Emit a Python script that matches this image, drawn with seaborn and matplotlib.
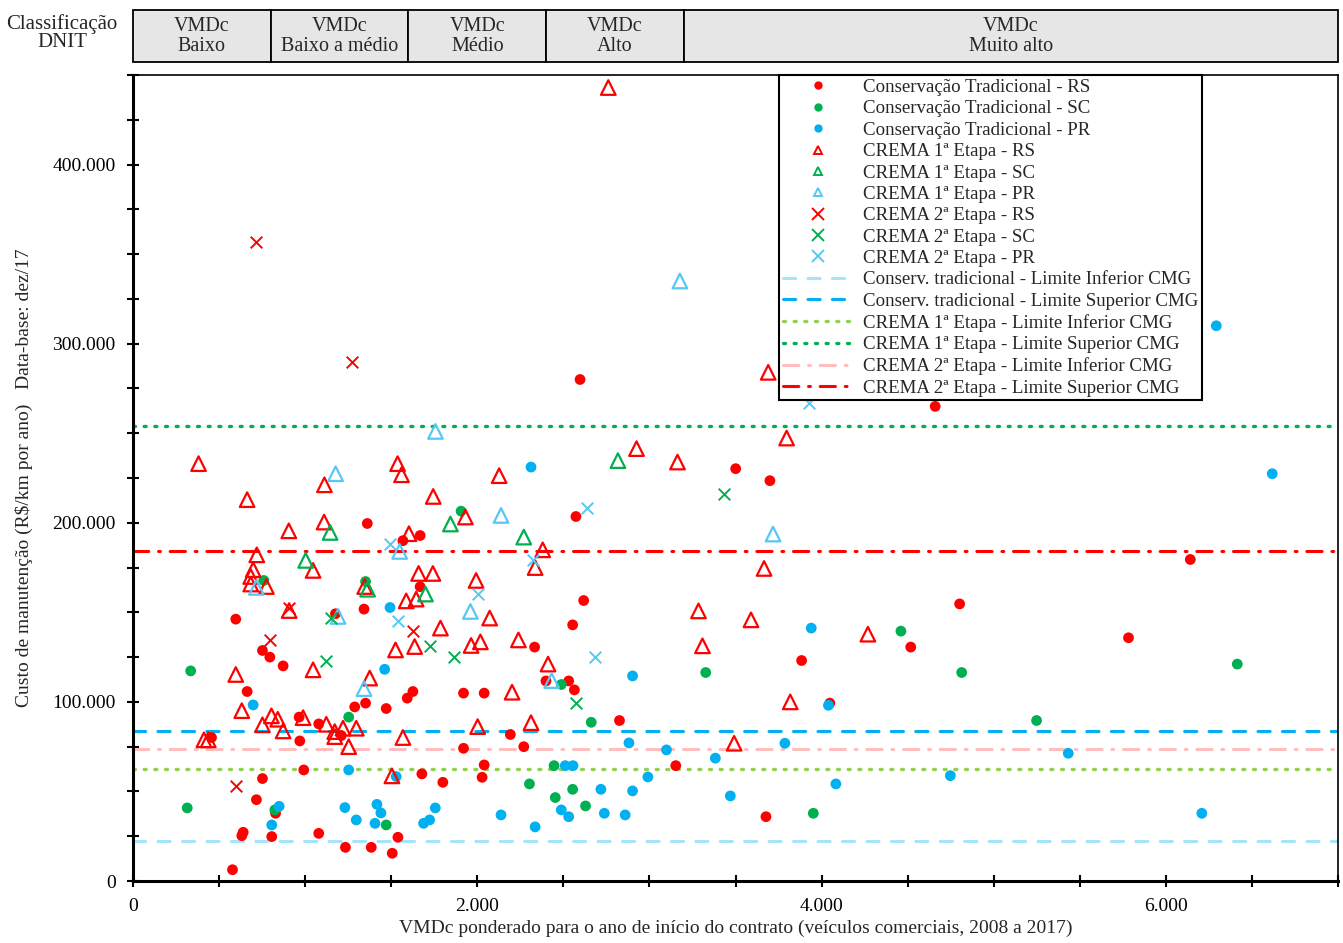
import matplotlib
matplotlib.use("Agg")
import matplotlib.pyplot as plt
import seaborn as sns
import pandas as pd
from matplotlib.patches import Rectangle
from matplotlib.lines import Line2D
from matplotlib.ticker import MultipleLocator, FuncFormatter

# Conservação Tradicional (pontos)
ct_rs_x = [2597, 4660, 2573, 3501, 3700, 6142, 4802, 5783, 4518, 3884, 4048, 3677, 3153,
           2618, 2554, 2333, 2399, 2531, 2564, 2040, 2826, 2192, 2270, 2040, 2028, 1361,
           1668, 1568, 1668, 597, 1176, 1342, 752, 795, 872, 663, 1920, 1626, 1593, 1351,
           1288, 1471, 965, 1079, 1210, 456, 969, 1920, 992, 1678, 1800, 752, 717, 828,
           640, 632, 806, 1079, 578, 1234, 1384, 1506, 1539]
ct_rs_y = [280000, 265000, 203500, 230200, 223500, 179500, 154700, 135800, 130600, 123100,
           99300, 35900, 64400, 156600, 143000, 130600, 111700, 111700, 106700, 104900,
           89600, 81800, 75000, 64800, 57900, 199600, 192900, 190000, 164300, 146200,
           149200, 151800, 128700, 125000, 120100, 105800, 104900, 105800, 102100, 99300,
           97200, 96300, 91500, 87700, 81200, 80100, 78200, 74100, 62000, 59800, 55100,
           57200, 45400, 37800, 27200, 25300, 24800, 26600, 6300, 18800, 18800, 15500, 24400]

ct_sc_x = [1906, 760, 1351, 335, 1253, 315, 824, 1471, 3327, 2488, 2662, 2446, 2303, 2554,
           2453, 2629, 3952, 4461, 6415, 4814, 5249]
ct_sc_y = [206500, 167800, 167200, 117300, 91500, 40800, 39700, 31300, 116400, 109700,
           88600, 64400, 54200, 51200, 46600, 41900, 37800, 139500, 121100, 116400, 89600]

ct_pr_x = [6293, 6618, 2312, 3940, 1493, 1462, 698, 1253, 1529, 849, 806, 1231, 1297, 1417,
           1440, 1406, 1688, 1723, 1756, 2902, 2881, 3099, 3383, 3787, 2511, 2556, 2991,
           2718, 2902, 3470, 2488, 2531, 2738, 2859, 2138, 2336, 4040, 5433, 4748, 4083, 6209]
ct_pr_y = [310000, 227400, 231100, 141200, 152700, 118200, 98300, 62000, 58300, 41700,
           31300, 41000, 34100, 42800, 38000, 32200, 32200, 34100, 40800, 114500, 77100,
           73200, 68600, 76900, 64400, 64400, 58100, 51200, 50300, 47500, 39700, 35900,
           37800, 36900, 36900, 30200, 98100, 71300, 58800, 54200, 37800]

# CREMA 1ª Etapa (triângulos)
c1_rs_x = [2761, 3690, 381, 663, 1112, 1537, 1560, 1744, 1931, 905, 1110, 1603, 719, 1046,
           698, 684, 684, 775, 1659, 1742, 1346, 1587, 1645, 1993, 907, 1786, 1525, 1636,
           1964, 2018, 597, 1046, 1375, 632, 804, 841, 752, 872, 988, 1123, 1172, 1172,
           1220, 1297, 412, 437, 1253, 1568, 2002, 1504, 3797, 2925, 3163, 2127, 2380,
           2336, 3666, 2072, 3285, 3590, 2239, 3308, 2411, 2202, 3818, 2312, 3492, 4269]
c1_rs_y = [443000, 284000, 233000, 212900, 221200, 233000, 226800, 214700, 203200, 195500,
           200400, 193900, 182100, 173400, 173800, 170000, 165800, 164400, 171700, 171700,
           164400, 156400, 157400, 167800, 151000, 141200, 129000, 130900, 131500, 133500,
           115300, 117900, 113300, 95100, 92200, 90300, 87200, 83800, 91200, 87500, 83400,
           80600, 85300, 85300, 78800, 78800, 75000, 80100, 86200, 58700, 247300, 241400,
           233900, 226300, 184900, 175000, 174500, 146800, 150800, 145800, 134600, 131300,
           121100, 105400, 100000, 88400, 76900, 137800]

c1_sc_x = [2817, 1844, 1145, 1003, 1363, 1699, 2270]
c1_sc_y = [234700, 199300, 194600, 179000, 162900, 160200, 192000]

c1_pr_x = [3177, 1757, 1177, 1549, 717, 1191, 1960, 1342, 2138, 3718, 2432]
c1_pr_y = [335000, 251000, 227400, 184000, 163900, 147700, 150500, 107400, 204100, 193700, 111900]

# CREMA 2ª Etapa (x)
c2_rs_x = [717, 1273, 905, 1624, 793, 597]
c2_rs_y = [357000, 290000, 152400, 139500, 134600, 53300]

c2_sc_x = [1152, 1723, 1862, 1123, 3435, 2573]
c2_sc_y = [146800, 131300, 125000, 123100, 215800, 99300]

c2_pr_x = [3927, 1493, 1537, 2003, 2639, 2322, 2684]
c2_pr_y = [267000, 188100, 145400, 160200, 208200, 179300, 125000]

# limites CMG
limites = [22300, 83800, 62600, 254200, 73700, 184400]
limites_nomes = ["Conserv. tradicional - Limite Inferior CMG",
                 "Conserv. tradicional - Limite Superior CMG",
                 "CREMA 1ª Etapa - Limite Inferior CMG",
                 "CREMA 1ª Etapa - Limite Superior CMG",
                 "CREMA 2ª Etapa - Limite Inferior CMG",
                 "CREMA 2ª Etapa - Limite Superior CMG"]

# classes DNIT
classes_lim = [0, 800, 1600, 2400, 3200, 7000]
classes_nomes = ["VMDc\nBaixo", "VMDc\nBaixo a médio", "VMDc\nMédio", "VMDc\nAlto", "VMDc\nMuito alto"]

RED = "#FF0000"
GREEN = "#00B050"
BLUE = "#00B0F0"
LBLUE = "#55C8F5"

sns.set_style("ticks")
plt.rcParams["font.family"] = ["Liberation Serif", "DejaVu Serif"]
plt.rcParams["mathtext.default"] = "regular"

fig = plt.figure(figsize=(13.43, 9.43), dpi=100)
ax = fig.add_axes([133 / 1343, 62 / 943, 1205 / 1343, 806 / 943])

series = [
    (ct_rs_x, ct_rs_y, "Conservação Tradicional - RS", RED, "o"),
    (ct_sc_x, ct_sc_y, "Conservação Tradicional - SC", GREEN, "o"),
    (ct_pr_x, ct_pr_y, "Conservação Tradicional - PR", BLUE, "o"),
    (c1_rs_x, c1_rs_y, "CREMA 1ª Etapa - RS", RED, "^"),
    (c1_sc_x, c1_sc_y, "CREMA 1ª Etapa - SC", GREEN, "^"),
    (c1_pr_x, c1_pr_y, "CREMA 1ª Etapa - PR", LBLUE, "^"),
    (c2_rs_x, c2_rs_y, "CREMA 2ª Etapa - RS", RED, "x"),
    (c2_sc_x, c2_sc_y, "CREMA 2ª Etapa - SC", GREEN, "x"),
    (c2_pr_x, c2_pr_y, "CREMA 2ª Etapa - PR", LBLUE, "x"),
]

# linhas horizontais primeiro (ficam atrás dos pontos)
estilos = [("#A6E4FA", (0, (4, 4)), 2.2),
           (BLUE, (0, (4, 4)), 2.2),
           ("#92D050", (0, (0.6, 2.6)), 2.4),
           (GREEN, (0, (0.6, 2.6)), 2.4),
           ("#FFBDBD", (0, (5, 3.2, 0.6, 3.2)), 2.2),
           (RED, (0, (5, 3.2, 0.6, 3.2)), 2.2)]
linha_handles = []
for val, nome, (cor, ls, lw) in zip(limites, limites_nomes, estilos):
    ax.axhline(val, color=cor, linestyle=ls, linewidth=lw, dash_capstyle="round", zorder=1)
    linha_handles.append(Line2D([], [], color=cor, linestyle=ls, linewidth=lw,
                                dash_capstyle="round", label=nome))

ponto_handles = []
for xs, ys, nome, cor, mk in series:
    df = pd.DataFrame({"x": xs, "y": ys})
    if mk == "o":
        sns.scatterplot(data=df, x="x", y="y", ax=ax, color=cor, marker="o", s=60,
                        edgecolor="none", zorder=3)
        ponto_handles.append(Line2D([], [], color=cor, marker="o", linestyle="none",
                                    markersize=6, markeredgecolor="none", label=nome))
    elif mk == "^":
        sns.scatterplot(data=df, x="x", y="y", ax=ax, marker="^", s=110,
                        facecolor="none", edgecolor=cor, linewidth=1.6, zorder=3)
        ponto_handles.append(Line2D([], [], color=cor, marker="^", linestyle="none",
                                    markersize=6, markerfacecolor="none",
                                    markeredgewidth=1.4, label=nome))
    else:
        sns.scatterplot(data=df, x="x", y="y", ax=ax, marker="x", s=70, color=cor,
                        linewidth=1.4, zorder=3)
        ponto_handles.append(Line2D([], [], color=cor, marker="x", linestyle="none",
                                    markersize=8, markeredgewidth=1.4, label=nome))

ax.set_xlim(0, 7000)
ax.set_ylim(0, 450000)
ax.xaxis.set_major_locator(MultipleLocator(2000))
ax.xaxis.set_minor_locator(MultipleLocator(500))
ax.yaxis.set_major_locator(MultipleLocator(100000))
ax.yaxis.set_minor_locator(MultipleLocator(25000))
fmt = FuncFormatter(lambda v, p: f"{int(v):,}".replace(",", "."))
ax.xaxis.set_major_formatter(fmt)
ax.yaxis.set_major_formatter(fmt)
ax.tick_params(which="both", direction="inout", length=9, width=1.5, colors="black",
               labelsize=14)
ax.tick_params(axis="x", pad=8)
ax.tick_params(axis="y", pad=8)

for s in ["left", "bottom"]:
    ax.spines[s].set_linewidth(2.2)
for s in ["top", "right"]:
    ax.spines[s].set_linewidth(1.2)
    ax.spines[s].set_visible(True)
for s in ax.spines.values():
    s.set_color("black")

ax.set_xlabel("VMDc ponderado para o ano de início do contrato (veículos comerciais, 2008 a 2017)",
              fontsize=14, labelpad=3)
ax.set_ylabel("Custo de manutenção (R\\$/km por ano)   Data-base: dez/17", fontsize=14, labelpad=14)

leg = ax.legend(handles=ponto_handles + linha_handles, loc="upper left",
                bbox_to_anchor=(0.536, 1.0), fontsize=13.6, frameon=True, fancybox=False,
                edgecolor="black", framealpha=1, borderaxespad=0, labelspacing=0.22,
                handlelength=3.7, handletextpad=0.55, borderpad=0.2)
leg.get_frame().set_linewidth(1.5)

# caixas de classificação DNIT
trans = ax.get_xaxis_transform()
for i, nome in enumerate(classes_nomes):
    x0, x1 = classes_lim[i], classes_lim[i + 1]
    ax.add_patch(Rectangle((x0, 1.016), x1 - x0, 0.0645, transform=trans, clip_on=False,
                           facecolor="#E6E6E6", edgecolor="black", linewidth=1.3))
    ax.text((x0 + x1) / 2, 1.048, nome, transform=trans, ha="center", va="center",
            fontsize=14.5, linespacing=1.05)
fig.text(62 / 1343, 1 - 33 / 943, "Classificação\nDNIT", ha="center", va="center",
         fontsize=15, linespacing=0.95)

fig.savefig("out.png", dpi=100)
